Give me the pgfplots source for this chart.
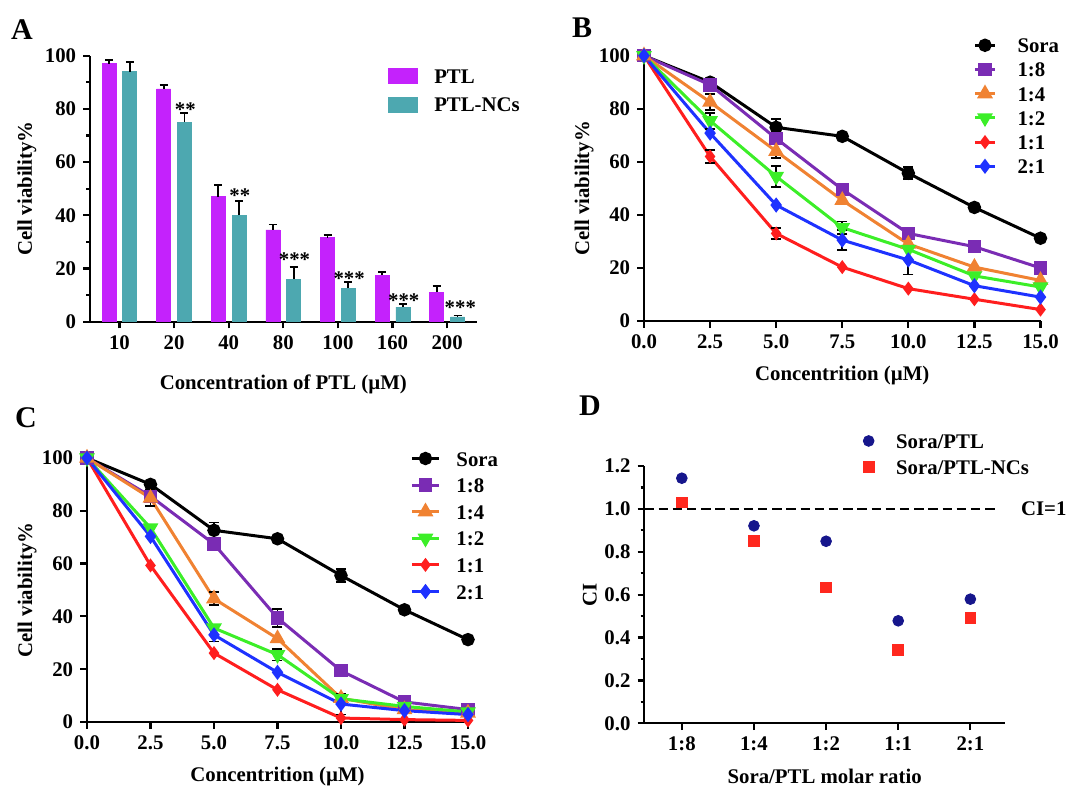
\documentclass[border=0pt]{standalone}
\usepackage{pgfplots}
\pgfplotsset{compat=1.18}
\usepackage{fontspec}
\setmainfont{Liberation Serif}

\definecolor{ptl}{RGB}{196,34,252}
\definecolor{ptlnc}{RGB}{77,168,176}
\definecolor{c18}{RGB}{122,44,180}
\definecolor{c14}{RGB}{240,130,50}
\definecolor{c12}{RGB}{60,238,40}
\definecolor{c11}{RGB}{255,30,30}
\definecolor{c21}{RGB}{30,50,255}
\definecolor{navy}{RGB}{22,22,140}
\definecolor{dred}{RGB}{255,40,30}

\newcommand{\fs}{\bfseries\fontsize{10.4}{12}\selectfont}

\pgfplotsset{
  gp/.style={
    scale only axis, anchor=south west, clip=false,
    axis x line*=bottom, axis y line*=left,
    axis line style={line width=1.1pt,-},
    tick style={line width=1.1pt,black},
    tick align=outside,
    major tick length=3.4pt, minor tick length=1.8pt,
    ticklabel style={font=\fs},
    /pgf/number format/assume math mode=true,
    label style={font=\fs},
    legend cell align=left,
    legend style={draw=none, fill=none, inner sep=0pt, font=\fs,
      nodes={inner sep=0pt, text height=7.5pt, text depth=0pt}},
  },
  ebar/.style={draw=none, mark=none, forget plot,
    error bars/.cd, y dir=both, y explicit,
    error bar style={draw=black, solid, line width=0.9pt},
    error mark options={rotate=90, draw=black, mark size=2.5pt, line width=0.9pt}},
  curve/.style={line width=1.5pt, color=#1, mark options={solid, fill=#1, draw=#1}},
}

\begin{document}
\begin{tikzpicture}
\path[use as bounding box] (0,0) rectangle (536pt,393pt);

% panel letters
\node[font=\bfseries\fontsize{15}{18}\selectfont] at (11pt,378pt) {A};
\node[font=\bfseries\fontsize{15}{18}\selectfont] at (291pt,379pt) {B};
\node[font=\bfseries\fontsize{15}{18}\selectfont] at (13pt,184pt) {C};
\node[font=\bfseries\fontsize{15}{18}\selectfont] at (295pt,190pt) {D};

% ---------------- A
\begin{axis}[gp, at={(45pt,232.15pt)}, width=193.3pt, height=133pt,
  xmin=-0.54, xmax=6.54, ymin=0, ymax=100,
  xtick={0,...,6}, xticklabels={10,20,40,80,100,160,200},
  ytick={0,20,...,100}, minor y tick num=1,
  ybar=3.4pt, bar width=7pt,
  xlabel={Concentration of PTL (µM)}, ylabel={Cell viability\%},
  xlabel style={at={(axis description cs:0.5,-0.234)}, anchor=center},
  ylabel style={at={(axis description cs:-0.163,0.5)}, anchor=center},
  legend image code/.code={\fill[#1] (0pt,-3.75pt) rectangle (14.5pt,3.75pt);},
  legend style={at={(axis description cs:0.771,0.956)}, anchor=north west,
    row sep=6.5pt, column sep=8pt},
]
\addplot[fill=ptl, draw=ptl, error bars/.cd, y dir=plus, y explicit,
  error bar style={draw=black, line width=0.9pt},
  error mark options={rotate=90, draw=black, mark size=2pt, line width=0.9pt}]
  table[x=x, y=y, y error=e] {
x y e
0 97 1.5
1 87.5 1.5
2 47 4.5
3 34.5 2
4 31.5 1
5 17.5 1.2
6 11 2.3
};
\addplot[fill=ptlnc, draw=ptlnc, error bars/.cd, y dir=plus, y explicit,
  error bar style={draw=black, line width=0.9pt},
  error mark options={rotate=90, draw=black, mark size=2pt, line width=0.9pt}]
  table[x=x, y=y, y error=e] {
x y e
0 94 3.5
1 75 3.5
2 40 5.5
3 16 4.5
4 12.5 2.3
5 5.5 1
6 1.8 0.5
};
\legend{PTL, PTL-NCs}
\node[font=\fs, xshift=5.6pt, yshift=-1.7pt] at (axis cs:1,81.1) {**};
\node[font=\fs, xshift=5.6pt, yshift=-1.7pt] at (axis cs:2,48.6) {**};
\node[font=\fs, xshift=5.6pt, yshift=-1.7pt] at (axis cs:3,24.7) {***};
\node[font=\fs, xshift=5.6pt, yshift=-1.7pt] at (axis cs:4,17.6) {***};
\node[font=\fs, xshift=5.6pt, yshift=-1.7pt] at (axis cs:5,9.2) {***};
\node[font=\fs, xshift=6.6pt, yshift=-1.7pt] at (axis cs:6,6.7) {***};
\end{axis}

% ---------------- B
\begin{axis}[gp, at={(322pt,232.5pt)}, width=198.25pt, height=132.65pt,
  xmin=0, xmax=15, ymin=0, ymax=100,
  xtick={0,2.5,...,15}, ytick={0,20,...,100},
  xticklabel style={/pgf/number format/fixed, /pgf/number format/fixed zerofill, /pgf/number format/precision=1},
  xlabel={Concentrition (µM)}, ylabel={Cell viability\%},
  xlabel style={at={(axis description cs:0.5,-0.204)}, anchor=center},
  ylabel style={at={(axis description cs:-0.151,0.5)}, anchor=center},
  legend image code/.code={\draw[mark repeat=2,mark phase=2,#1] plot coordinates {(0pt,0pt) (5pt,0pt) (10pt,0pt)};},
  legend style={at={(axis description cs:0.83,1.069)}, anchor=north west,
    row sep=4.6pt, column sep=10.5pt},
]
\addplot[curve=black, mark=*, mark size=2.6pt] table {
x y
0 100
2.5 90
5 73
7.5 69.6
10 55.7
12.5 42.8
15 31.2
};
\addplot[curve=c18, mark=square*, mark size=2.6pt] table {
x y
0 100
2.5 89
5 68.8
7.5 49.6
10 33
12.5 28
15 20
};
\addplot[curve=c14, mark=triangle*, mark size=3.1pt] table {
x y
0 100
2.5 82.5
5 64
7.5 45.5
10 29
12.5 20.3
15 15.3
};
\addplot[curve=c12, mark=triangle*, mark size=3.1pt, mark options={rotate=180}] table {
x y
0 100
2.5 75.5
5 54.5
7.5 35.2
10 27
12.5 17
15 12.8
};
\addplot[curve=c11, mark=diamond*, mark size=2.3pt] table {
x y
0 100
2.5 62
5 33
7.5 20.3
10 12.2
12.5 8.2
15 4.3
};
\addplot[curve=c21, mark=diamond*, mark size=2.6pt] table {
x y
0 100
2.5 70.8
5 43.7
7.5 30.5
10 23
12.5 13.3
15 9
};
\legend{Sora, 1:8, 1:4, 1:2, 1:1, 2:1}
\addplot[ebar] table[x=x, y=y, y error=e] {
x y e
5 73 3
10 55.7 2.3
5 68.8 2
10 33 2
15 20 2
2.5 82.5 3
5 64 2.5
2.5 75.5 3
5 54.5 4
7.5 35.2 2.3
2.5 62 2.5
5 33 2
7.5 30.5 3.8
10 23 5.5
};
\end{axis}

% ---------------- C
\begin{axis}[gp, at={(43.5pt,32pt)}, width=190.5pt, height=132pt,
  xmin=0, xmax=15, ymin=0, ymax=100,
  xtick={0,2.5,...,15}, ytick={0,20,...,100},
  xticklabel style={/pgf/number format/fixed, /pgf/number format/fixed zerofill, /pgf/number format/precision=1},
  xlabel={Concentrition (µM)}, ylabel={Cell viability\%},
  xlabel style={at={(axis description cs:0.5,-0.205)}, anchor=center},
  ylabel style={at={(axis description cs:-0.157,0.5)}, anchor=center},
  legend image code/.code={\draw[mark repeat=2,mark phase=2,#1] plot coordinates {(0pt,0pt) (6.75pt,0pt) (13.5pt,0pt)};},
  legend style={at={(axis description cs:0.848,1.028)}, anchor=north west,
    row sep=5.8pt, column sep=8pt},
]
\addplot[curve=black, mark=*, mark size=2.6pt] table {
x y
0 100
2.5 90
5 72.6
7.5 69.4
10 55.5
12.5 42.5
15 31.2
};
\addplot[curve=c18, mark=square*, mark size=2.6pt] table {
x y
0 100
2.5 85.5
5 67.4
7.5 39.4
10 19.4
12.5 7.6
15 4.7
};
\addplot[curve=c14, mark=triangle*, mark size=3.1pt] table {
x y
0 100
2.5 84.8
5 46.7
7.5 31.6
10 9
12.5 4.7
15 3.4
};
\addplot[curve=c12, mark=triangle*, mark size=3.1pt, mark options={rotate=180}] table {
x y
0 100
2.5 73.5
5 35.6
7.5 25.5
10 8.8
12.5 5.9
15 3.8
};
\addplot[curve=c11, mark=diamond*, mark size=2.3pt] table {
x y
0 100
2.5 59.3
5 26.1
7.5 12.2
10 1.5
12.5 0.9
15 0.6
};
\addplot[curve=c21, mark=diamond*, mark size=2.6pt] table {
x y
0 100
2.5 70.3
5 33
7.5 18.8
10 6.8
12.5 4.3
15 2.8
};
\legend{Sora, 1:8, 1:4, 1:2, 1:1, 2:1}
\addplot[ebar] table[x=x, y=y, y error=e] {
x y e
5 72.6 3
10 55.5 2.5
7.5 39.4 3.5
2.5 84.8 3
5 46.7 2.4
7.5 25.5 2.2
10 8.8 2
5 33 2.5
10 6.8 4
};
\end{axis}

% ---------------- D
\begin{axis}[gp, at={(322.15pt,31.35pt)}, width=180.35pt, height=128.65pt,
  xmin=-0.52, xmax=4.48, ymin=0, ymax=1.2,
  xtick={0,...,4}, xticklabels={1:8,1:4,1:2,1:1,2:1},
  ytick={0,0.2,...,1.2}, minor y tick num=1,
  yticklabel style={/pgf/number format/fixed, /pgf/number format/fixed zerofill, /pgf/number format/precision=1},
  xlabel={Sora/PTL molar ratio}, ylabel={CI},
  xlabel style={at={(axis description cs:0.5,-0.205)}, anchor=center},
  ylabel style={at={(axis description cs:-0.151,0.5)}, anchor=center},
  legend image code/.code={\draw[#1] plot coordinates {(0pt,0pt)};},
  legend style={at={(axis description cs:0.606,1.128)}, anchor=north west,
    row sep=5.3pt, column sep=11pt},
]
\addplot[black, line width=1.2pt, dash pattern=on 4.7pt off 2.4pt, forget plot] coordinates {(-0.52,1) (4.35,1)};
\addplot[only marks, mark=*, mark size=2.7pt, navy, mark options={fill=navy, draw=navy}] table {
x y
0 1.143
1 0.921
2 0.849
3 0.478
4 0.579
};
\addplot[only marks, mark=square*, mark size=2.7pt, dred, mark options={fill=dred, draw=dred}] table {
x y
0 1.03
1 0.851
2 0.634
3 0.343
4 0.491
};
\legend{Sora/PTL, Sora/PTL-NCs}
\end{axis}
\node[font=\fs, anchor=west] at (507pt,138.5pt) {CI=1};
\end{tikzpicture}
\end{document}
